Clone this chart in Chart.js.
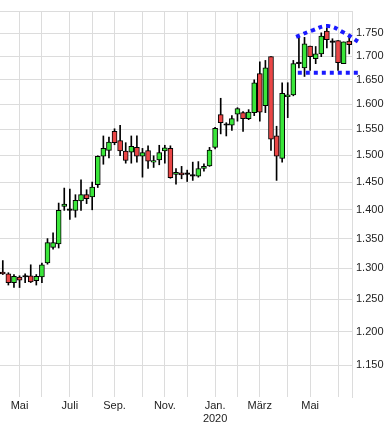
<!DOCTYPE html>
<html>
<head>
<meta charset="utf-8">
<script src="https://cdn.jsdelivr.net/npm/chart.js@4/dist/chart.umd.min.js"></script>
<style>
  html, body { margin: 0; padding: 0; background: #fff; }
  #wrap { width: 392px; height: 427px; position: relative; }
</style>
</head>
<body>
<div id="wrap"><canvas id="priceChart"></canvas></div>
<script>
// weekly candles
const openArr  = [1.294, 1.291, 1.277, 1.286, 1.286, 1.288, 1.280, 1.286, 1.309, 1.335, 1.341, 1.406, 1.399, 1.399, 1.416, 1.427, 1.423, 1.445, 1.498, 1.509, 1.546, 1.528, 1.508, 1.506, 1.515, 1.498, 1.509, 1.487, 1.491, 1.508, 1.513, 1.464, 1.467, 1.464, 1.461, 1.461, 1.475, 1.480, 1.515, 1.579, 1.558, 1.558, 1.580, 1.583, 1.571, 1.583, 1.663, 1.597, 1.699, 1.537, 1.494, 1.615, 1.619, 1.684, 1.675, 1.722, 1.695, 1.705, 1.755, 1.730, 1.734, 1.684, 1.733]
const highArr  = [1.313, 1.293, 1.290, 1.288, 1.291, 1.306, 1.290, 1.309, 1.350, 1.360, 1.412, 1.439, 1.437, 1.427, 1.454, 1.436, 1.450, 1.499, 1.537, 1.535, 1.551, 1.558, 1.524, 1.537, 1.537, 1.513, 1.518, 1.499, 1.519, 1.519, 1.518, 1.475, 1.479, 1.472, 1.487, 1.488, 1.484, 1.515, 1.554, 1.612, 1.563, 1.577, 1.593, 1.585, 1.589, 1.650, 1.688, 1.691, 1.699, 1.556, 1.644, 1.644, 1.691, 1.741, 1.741, 1.722, 1.721, 1.751, 1.762, 1.738, 1.734, 1.731, 1.746]
const lowArr   = [1.290, 1.273, 1.269, 1.269, 1.277, 1.277, 1.273, 1.277, 1.307, 1.332, 1.334, 1.399, 1.383, 1.387, 1.399, 1.411, 1.400, 1.440, 1.483, 1.495, 1.520, 1.499, 1.485, 1.485, 1.487, 1.459, 1.475, 1.477, 1.482, 1.485, 1.457, 1.446, 1.456, 1.451, 1.453, 1.459, 1.470, 1.479, 1.512, 1.541, 1.537, 1.548, 1.566, 1.546, 1.569, 1.577, 1.566, 1.583, 1.509, 1.453, 1.487, 1.573, 1.617, 1.675, 1.657, 1.670, 1.684, 1.699, 1.718, 1.699, 1.670, 1.684, 1.705]
const closeArr = [1.291, 1.277, 1.287, 1.281, 1.286, 1.278, 1.287, 1.306, 1.343, 1.343, 1.399, 1.410, 1.399, 1.417, 1.427, 1.420, 1.441, 1.498, 1.513, 1.525, 1.524, 1.508, 1.490, 1.517, 1.498, 1.505, 1.489, 1.490, 1.505, 1.514, 1.458, 1.468, 1.463, 1.464, 1.461, 1.475, 1.479, 1.510, 1.552, 1.563, 1.558, 1.571, 1.591, 1.571, 1.584, 1.644, 1.584, 1.675, 1.531, 1.498, 1.622, 1.619, 1.684, 1.684, 1.727, 1.699, 1.705, 1.744, 1.736, 1.730, 1.686, 1.731, 1.725]

// month starts (week index) and their labels
const monthTicks  = [3, 7, 12, 16, 20, 25, 29, 33, 38, 42, 46, 51, 55, 60]
const monthLabels = ['Mai', '', 'Juli', '', 'Sep.', '', 'Nov.', '', ['Jan.', '2020'], '', 'März', '', 'Mai', '']

const priceTicks = [1.15, 1.20, 1.25, 1.30, 1.35, 1.40, 1.45, 1.50, 1.55, 1.60, 1.65, 1.70, 1.75, 1.80]

// blue dotted pattern drawn on top (week index / price)
const arcX  = [52.5, 55.3, 58.2, 61.1, 63.8]
const arcY  = [1.742, 1.756, 1.766, 1.751, 1.730]
const baseX = [52.8, 63.9]
const baseY = [1.665, 1.665]

const UP = '#3ae63a'
const DOWN = '#ea4646'
const GRID = '#dcdcdc'

const bodyData = openArr.map((o, i) => ({ x: i, y: [o, closeArr[i]] }))
const wickData = lowArr.map((l, i) => ({ x: i, y: [l, highArr[i]] }))
const bodyColors = openArr.map((o, i) => {
  if (closeArr[i] > o) return UP
  if (closeArr[i] < o) return DOWN
  return '#000'
})

const ctx = document.getElementById('priceChart')

new Chart(ctx, {
  type: 'bar',
  data: {
    datasets: [
      {
        type: 'line',
        order: 0,
        data: arcX.map((x, i) => ({ x: x, y: arcY[i] })),
        borderColor: '#1a1aff',
        borderWidth: 4,
        borderDash: [4, 4],
        pointRadius: 0,
        tension: 0.4,
        fill: false,
        clip: false
      },
      {
        type: 'line',
        order: 0,
        data: baseX.map((x, i) => ({ x: x, y: baseY[i] })),
        borderColor: '#1a1aff',
        borderWidth: 4,
        borderDash: [4, 4],
        pointRadius: 0,
        fill: false,
        clip: false
      },
      {
        order: 1,
        data: bodyData,
        backgroundColor: bodyColors,
        borderColor: '#000',
        borderWidth: 1,
        borderSkipped: false,
        barThickness: 5,
        minBarLength: 1.5,
        grouped: false
      },
      {
        order: 2,
        data: wickData,
        backgroundColor: '#000',
        borderWidth: 0,
        barThickness: 1,
        grouped: false
      }
    ]
  },
  options: {
    responsive: true,
    maintainAspectRatio: false,
    animation: false,
    layout: { padding: { top: 11, left: 0, right: 0, bottom: 0 } },
    plugins: {
      legend: { display: false },
      tooltip: { enabled: false }
    },
    scales: {
      x: {
        type: 'linear',
        min: -0.5,
        max: 62.5,
        offset: false,
        grid: { color: GRID, offset: false, drawTicks: false },
        border: { display: false },
        afterBuildTicks: function(scale) {
          scale.ticks = monthTicks.map(v => ({ value: v }))
        },
        afterFit: function(scale) { scale.height = 30 },
        ticks: {
          autoSkip: false,
          maxRotation: 0,
          padding: 2,
          color: '#222',
          font: { family: 'Liberation Sans', size: 11 },
          callback: function(value) {
            const k = monthTicks.indexOf(value)
            return k >= 0 ? monthLabels[k] : ''
          }
        }
      },
      y: {
        type: 'logarithmic',
        position: 'right',
        min: 1.105,
        max: 1.8,
        grid: { color: GRID, drawTicks: false },
        border: { display: true, color: GRID },
        afterBuildTicks: function(scale) {
          scale.ticks = priceTicks.map(v => ({ value: v }))
        },
        afterFit: function(scale) { scale.width = 40 },
        ticks: {
          padding: 4,
          color: '#222',
          font: { family: 'Liberation Sans', size: 11 },
          callback: function(value) {
            return value >= 1.79 ? '' : value.toFixed(3)
          }
        }
      }
    }
  }
})
</script>
</body>
</html>
